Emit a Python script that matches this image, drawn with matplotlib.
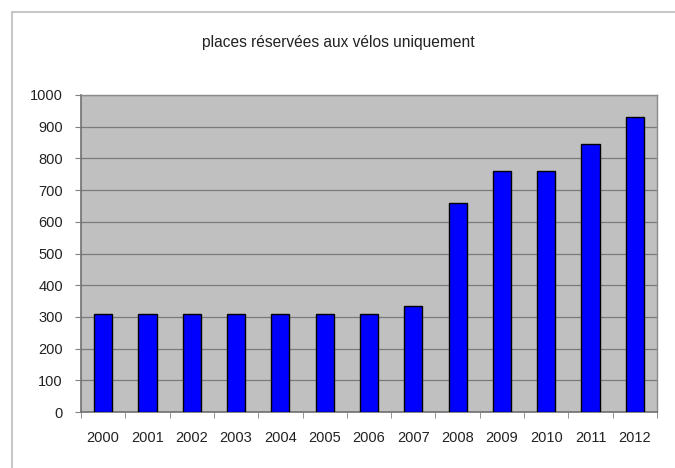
import matplotlib
matplotlib.use("Agg")
import matplotlib.pyplot as plt
from matplotlib.lines import Line2D
import numpy as np

years = ["2000", "2001", "2002", "2003", "2004", "2005", "2006",
         "2007", "2008", "2009", "2010", "2011", "2012"]
values = [310, 310, 310, 310, 310, 310, 310, 333, 660, 760, 760, 847, 932]
yticks = list(range(0, 1001, 100))
title = "places réservées aux vélos uniquement"

plt.rcParams['font.family'] = ['Liberation Sans', 'DejaVu Sans']

fig = plt.figure(figsize=(6.75, 4.68), dpi=100)
fig.patch.set_facecolor('white')

# outer chart border (top and left visible)
fig.add_artist(Line2D([12/675, 12/675], [0, 1 - 12/468], transform=fig.transFigure,
                      color='#c8c8c8', lw=1.5))
fig.add_artist(Line2D([12/675, 1], [1 - 12/468, 1 - 12/468], transform=fig.transFigure,
                      color='#c8c8c8', lw=1.5))

ax = fig.add_axes([81/675, 1 - 412/468, (657 - 81)/675, (412 - 95)/468])
ax.set_facecolor('#c0c0c0')

x = np.arange(len(years))
ax.bar(x, values, width=0.41, color='#0000ff', edgecolor='black', linewidth=1.0, zorder=3)

ax.set_xlim(-0.5, len(years) - 0.5)
ax.set_ylim(0, 1000)
ax.set_yticks(yticks)
ax.set_yticklabels([str(t) for t in yticks], fontsize=10.5, color='#222222')
ax.set_xticks(x)
ax.set_xticklabels(years, fontsize=10.5, color='#222222')
ax.tick_params(axis='x', length=0, pad=14)
ax.tick_params(axis='y', length=4, color='#808080', pad=9)
ax.set_xticks(np.arange(-0.5, len(years), 1), minor=True)
ax.tick_params(axis='x', which='minor', length=4, color='#808080', direction='out')

ax.yaxis.grid(True, color='#7a7a7a', linewidth=0.9, zorder=1)
ax.set_axisbelow(True)

for side in ['left', 'bottom']:
    ax.spines[side].set_color('#707070')
    ax.spines[side].set_linewidth(1.2)
for side in ['right', 'top']:
    ax.spines[side].set_color('#8a8a8a')
    ax.spines[side].set_linewidth(1.0)

fig.text(338/675, 1 - 42/468, title, ha='center', va='center', fontsize=11.2, color='#222222')

fig.savefig("out.png", dpi=100)
